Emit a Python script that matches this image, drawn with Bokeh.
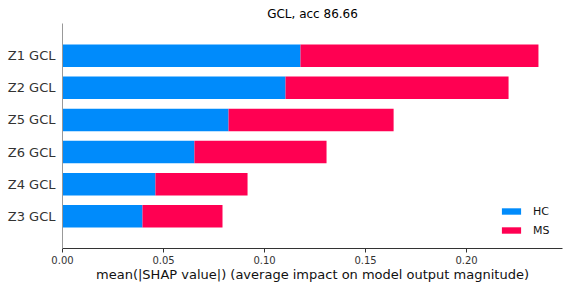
import numpy as np
from bokeh.plotting import figure
from bokeh.models import ColumnDataSource, Range1d, FixedTicker, Legend, LegendItem
from bokeh.embed import file_html
from bokeh.resources import INLINE

# data (bottom to top)
features = ["Z3 GCL", "Z4 GCL", "Z6 GCL", "Z5 GCL", "Z2 GCL", "Z1 GCL"]
hc_values = [0.0396, 0.0460, 0.0653, 0.0822, 0.1104, 0.1178]
ms_values = [0.0396, 0.0456, 0.0654, 0.0817, 0.1104, 0.1178]
x_ticks = [0.0, 0.05, 0.10, 0.15, 0.20]
x_tick_labels = ["0.00", "0.05", "0.10", "0.15", "0.20"]
title_text = "GCL, acc 86.66"
x_label = "mean(|SHAP value|) (average impact on model output magnitude)"

HC_COLOR = "#008bfb"
MS_COLOR = "#ff0052"
FONT = "DejaVu Sans"

ypos = list(range(len(features)))
hc = np.array(hc_values)
ms = np.array(ms_values)
src = ColumnDataSource(dict(y=ypos, hc_l=np.zeros(len(hc)), hc_r=hc, ms_l=hc, ms_r=hc + ms))

p = figure(width=568, height=289, output_backend="svg", toolbar_location=None,
           x_range=Range1d(0, 0.2475), y_range=Range1d(-1, len(features)),
           min_border_left=62, min_border_right=6, min_border_top=23, min_border_bottom=41)
p.outline_line_color = None
p.xgrid.visible = False
p.ygrid.visible = False
p.background_fill_color = "white"
p.border_fill_color = "white"

r1 = p.hbar(y="y", left="hc_l", right="hc_r", height=0.7, source=src,
            fill_color=HC_COLOR, line_color=None)
r2 = p.hbar(y="y", left="ms_l", right="ms_r", height=0.7, source=src,
            fill_color=MS_COLOR, line_color=None)

# title
p.title.text = title_text
p.title.align = "center"
p.title.text_font = FONT
p.title.text_font_size = "12px"
p.title.text_font_style = "normal"
p.title.text_color = "black"
p.title.standoff = 6

# x axis
xa = p.xaxis[0]
xa.ticker = FixedTicker(ticks=x_ticks)
xa.major_label_overrides = {t: l for t, l in zip(x_ticks, x_tick_labels)}
xa.minor_tick_line_color = None
xa.minor_tick_out = 0
xa.major_tick_in = 0
xa.major_tick_out = 4
xa.major_tick_line_color = "#333333"
xa.axis_line_color = "#333333"
xa.major_label_text_font = FONT
xa.major_label_text_font_size = "10px"
xa.major_label_text_color = "#333333"
xa.major_label_standoff = 3
xa.axis_label = x_label
xa.axis_label_text_font = FONT
xa.axis_label_text_font_size = "13px"
xa.axis_label_text_font_style = "normal"
xa.axis_label_text_color = "#111111"
xa.axis_label_standoff = 0

# y axis
ya = p.yaxis[0]
ya.ticker = FixedTicker(ticks=ypos)
ya.major_label_overrides = {i: f for i, f in zip(ypos, features)}
ya.minor_tick_line_color = None
ya.major_tick_line_color = None
ya.major_tick_out = 0
ya.major_tick_in = 0
ya.minor_tick_out = 0
ya.axis_line_color = "#999999"
ya.major_label_text_font = FONT
ya.major_label_text_font_size = "13px"
ya.major_label_text_color = "#333333"
ya.major_label_standoff = 7

legend = Legend(items=[LegendItem(label="HC", renderers=[r1]),
                       LegendItem(label="MS", renderers=[r2])],
                location=(437, 10))
legend.border_line_color = None
legend.background_fill_alpha = 0
legend.padding = 0
legend.margin = 0
legend.spacing = 3
legend.glyph_width = 24
legend.glyph_height = 8
legend.label_height = 16
legend.label_standoff = 10
legend.label_text_font = FONT
legend.label_text_font_size = "11px"
legend.label_text_color = "#111111"
p.add_layout(legend, "center")

open("out.html", "w").write(file_html(p, INLINE))
